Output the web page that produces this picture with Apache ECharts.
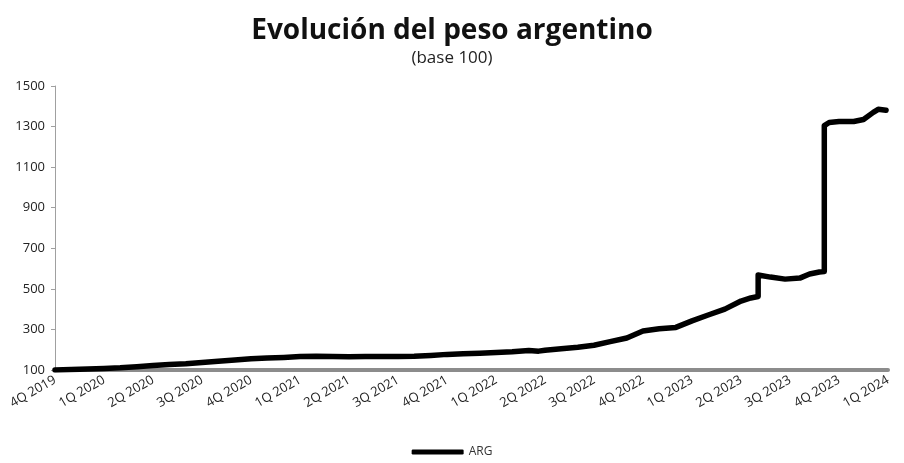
<!DOCTYPE html>
<html>
<head>
<meta charset="utf-8">
<script src="https://cdn.jsdelivr.net/npm/echarts@6/dist/echarts.min.js"></script>
<style>
  html, body { margin: 0; padding: 0; background: #fff; }
  #main { width: 904px; height: 463px; }
</style>
</head>
<body>
<div id="main"></div>
<script>
// etiquetas trimestrales del eje x
var quarterLabels = ["4Q 2019", "1Q 2020", "2Q 2020", "3Q 2020", "4Q 2020", "1Q 2021", "2Q 2021", "3Q 2021",
  "4Q 2021", "1Q 2022", "2Q 2022", "3Q 2022", "4Q 2022", "1Q 2023", "2Q 2023", "3Q 2023", "4Q 2023", "1Q 2024"];
var yTicks = [100, 300, 500, 700, 900, 1100, 1300, 1500];

// posicion en trimestres desde 4Q 2019, y valor del indice (base 100)
var argX = [0, 0.33, 0.67, 1, 1.33, 1.67, 2, 2.33, 2.67, 3, 3.33, 3.67, 4, 4.33, 4.67, 5, 5.33, 5.67, 6,
  6.33, 6.67, 7, 7.33, 7.67, 8, 8.33, 8.67, 9, 9.33, 9.67, 9.87, 10, 10.33, 10.67, 11, 11.33, 11.67, 12,
  12.33, 12.67, 13, 13.33, 13.67, 14, 14.2, 14.35, 14.35, 14.6, 14.9, 15.2, 15.4, 15.6, 15.7, 15.7, 15.8,
  16, 16.3, 16.5, 16.7, 16.8, 16.96];
var argY = [100, 102, 105, 108, 111, 116, 122, 127, 131, 137, 143, 149, 155, 159, 162, 166, 168, 166, 165,
  167, 166, 166, 168, 172, 177, 180, 183, 186, 190, 196, 193, 197, 205, 212, 222, 240, 258, 292,
  303, 310, 342, 371, 400, 440, 455, 462, 568, 558, 548, 553, 573, 583, 585, 1305, 1320,
  1325, 1325, 1335, 1370, 1385, 1380];

var argData = [];
for (var i = 0; i < argX.length; i++) {
  argData.push([argX[i], argY[i]]);
}

var myChart = echarts.init(document.getElementById("main"));
myChart.setOption({
  animation: false,
  title: {
    text: "Evolución del peso argentino",
    subtext: "(base 100)",
    left: "center",
    top: 12,
    itemGap: 5,
    textStyle: {
      fontFamily: "Open Sans",
      fontWeight: "bold",
      fontSize: 28,
      color: "#111"
    },
    subtextStyle: {
      fontFamily: "Open Sans",
      fontSize: 17,
      color: "#222"
    }
  },
  grid: {
    left: 55,
    right: 16,
    top: 86,
    bottom: 93
  },
  legend: {
    bottom: 0,
    left: "center",
    icon: "roundRect",
    itemWidth: 52,
    itemHeight: 5,
    itemGap: 6,
    textStyle: {
      fontFamily: "Open Sans",
      fontSize: 12,
      color: "#333"
    },
    data: ["ARG"]
  },
  xAxis: {
    type: "value",
    min: 0,
    max: 17,
    interval: 1,
    splitLine: { show: false },
    axisTick: { show: false },
    axisLine: {
      show: true,
      lineStyle: { color: "#8c8c8c", width: 4 }
    },
    axisLabel: {
      rotate: 30,
      margin: 9,
      fontFamily: "Open Sans",
      fontSize: 13,
      color: "#222",
      formatter: function (v) {
        return quarterLabels[Math.round(v)] || "";
      }
    }
  },
  yAxis: {
    type: "value",
    min: 100,
    max: 1500,
    splitLine: { show: false },
    axisLine: {
      show: true,
      lineStyle: { color: "#a0a0a0", width: 1 }
    },
    axisTick: {
      show: true,
      length: 4,
      customValues: yTicks,
      lineStyle: { color: "#a0a0a0" }
    },
    axisLabel: {
      customValues: yTicks,
      margin: 10,
      fontFamily: "Open Sans",
      fontSize: 13,
      color: "#222",
      formatter: function (v) {
        return String(v);
      }
    }
  },
  series: [
    {
      name: "ARG",
      type: "line",
      symbol: "none",
      data: argData,
      lineStyle: {
        color: "#000",
        width: 5.5,
        cap: "round",
        join: "round"
      },
      itemStyle: { color: "#000" }
    }
  ]
});
</script>
</body>
</html>
